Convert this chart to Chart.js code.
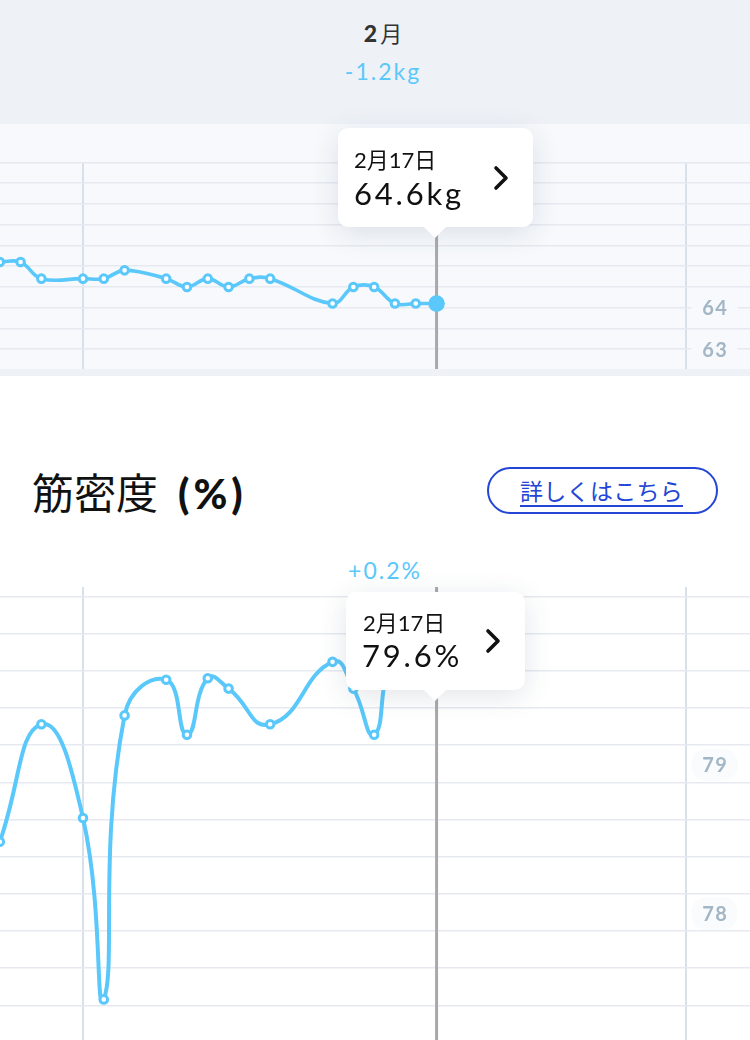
<!DOCTYPE html>
<html lang="ja">
<head>
<meta charset="utf-8">
<script>
window.__errs = [];
window.addEventListener('error', function(e){ window.__errs.push(String(e.message) + ' @' + e.lineno); });
</script>
<script src="https://cdn.jsdelivr.net/npm/chart.js"></script>
<style>
html,body{margin:0;padding:0;}
body{width:750px;height:1040px;overflow:hidden;background:#fff;position:relative;font-family:"Lato","Noto Sans CJK JP",sans-serif;}
#header{position:absolute;left:0;top:0;width:750px;height:124px;background:#eef2f7;}
#month{position:absolute;top:15px;left:8px;width:750px;text-align:center;font-size:22px;line-height:34px;color:#333;}
#month b{font-weight:900;font-family:"Lato",sans-serif;font-size:23px;}
#month span{font-family:"Noto Sans CJK JP",sans-serif;font-weight:400;margin-left:3px;}
#delta1{position:absolute;top:55px;left:8px;width:750px;text-align:center;font-size:23px;line-height:32px;color:#5ac8fa;letter-spacing:2px;}
#wpanel{position:absolute;left:0;top:124px;width:750px;height:246px;background:#f7f9fc;}
#wstrip{position:absolute;left:0;top:369px;width:750px;height:7px;background:#eef2f6;}
#wcanvas{position:absolute;left:0;top:124px;}
#mcanvas{position:absolute;left:0;top:587px;}
#title{position:absolute;left:32px;top:462px;font-size:42px;line-height:58px;color:#111;font-family:"Noto Sans CJK JP",sans-serif;white-space:nowrap;}
#title b{font-family:"Lato",sans-serif;font-weight:900;font-size:41px;margin-left:20px;letter-spacing:4px;}
#btn{position:absolute;left:487px;top:467px;width:227px;height:43px;border:2px solid #2346d6;border-radius:24px;box-sizing:content-box;}
#btn span{position:absolute;left:31px;top:6px;font-family:"Noto Sans CJK JP",sans-serif;font-size:23px;line-height:30px;color:#2346d6;border-bottom:2.5px solid #2346d6;letter-spacing:0.3px;white-space:nowrap;}
#delta2{position:absolute;top:555px;left:10px;width:750px;text-align:center;font-size:23px;line-height:30px;color:#5ac8fa;letter-spacing:2px;}
.tip{position:absolute;background:#fff;border-radius:10px;box-shadow:0 6px 28px rgba(50,70,100,0.14);}
.tip .d{position:absolute;font-size:22px;line-height:26px;color:#111;white-space:nowrap;}
.tip .v{position:absolute;font-size:31px;line-height:36px;color:#111;letter-spacing:2.8px;white-space:nowrap;}
.tip svg{position:absolute;}
.tip .caret{position:absolute;width:0;height:0;border-left:11px solid transparent;border-right:11px solid transparent;border-top:11px solid #fff;}
#dbg{position:absolute;left:10px;top:900px;width:730px;font:14px monospace;color:red;white-space:pre-wrap;}
</style>
</head>
<body>
<div id="header">
  <div id="month"><b>2</b><span>月</span></div>
  <div id="delta1">-1.2kg</div>
</div>
<div id="wpanel"></div>
<canvas id="wcanvas" width="750" height="246"></canvas>
<div id="wstrip"></div>

<div id="title">筋密度<b>(%)</b></div>
<div id="btn"><span>詳しくはこちら</span></div>
<div id="delta2">+0.2%</div>
<canvas id="mcanvas" width="750" height="453"></canvas>

<div class="tip" id="wtip" style="width:195px;height:99px;">
  <div class="d" style="left:16px;top:19px;">2月17日</div>
  <div class="v" id="wtipv" style="left:16px;top:47px;"></div>
  <svg width="20" height="26" style="left:153px;top:37px;" viewBox="0 0 20 26"><polyline points="5,3 15,13 5,23" fill="none" stroke="#111" stroke-width="3.6" stroke-linecap="round" stroke-linejoin="round"/></svg>
  <div class="caret" style="left:86px;top:99px;"></div>
</div>
<div class="tip" id="mtip" style="width:179px;height:98px;">
  <div class="d" style="left:17px;top:18px;">2月17日</div>
  <div class="v" id="mtipv" style="left:16px;top:45px;"></div>
  <svg width="20" height="26" style="left:137px;top:36px;" viewBox="0 0 20 26"><polyline points="5,3 15,13 5,23" fill="none" stroke="#111" stroke-width="3.6" stroke-linecap="round" stroke-linejoin="round"/></svg>
  <div class="caret" style="left:78px;top:98px;"></div>
</div>
<div id="dbg"></div>

<script>
// ---- data (days relative to Feb 1 = 1; Jan 31 = 0) ----
const weightDays   = [-4, -3, -2, 0, 1, 2, 4, 5, 6, 7, 8, 9, 12, 13, 14, 15, 16, 17];
const weightValues = [65.6, 65.6, 65.2, 65.2, 65.2, 65.4, 65.2, 65.0, 65.2, 65.0, 65.2, 65.2, 64.6, 65.0, 65.0, 64.6, 64.6, 64.6];
const muscleDays   = [-4, -2, 0, 1, 2, 4, 5, 6, 7, 9, 12, 13, 14, 15, 17];
const muscleValues = [78.60, 79.39, 78.76, 77.54, 79.45, 79.69, 79.32, 79.70, 79.63, 79.39, 79.81, 79.63, 79.32, 79.80, 79.64];
const monthBoundaryDays = [0, 29];
const weightTicks = [63, 63.5, 64, 64.5, 65, 65.5, 66, 66.5, 67, 67.5, 68];
const weightTickLabels = [63, 64];
const muscleTicks = [77.5, 77.75, 78, 78.25, 78.5, 78.75, 79, 79.25, 79.5, 79.75, 80, 80.25];
const muscleTickLabels = [78, 79];
const selectedDay = 17;
const weightSelected = 64.6;
const muscleSelected = 79.6;

const BLUE = '#5ac8fa';
const X_MIN = -3.99, X_MAX = 32.07;

const crosshair = {
  id: 'crosshair',
  beforeDatasetsDraw(chart) {
    const x = chart.scales.x.getPixelForValue(selectedDay);
    const ctx = chart.ctx;
    ctx.save();
    ctx.strokeStyle = '#a9a9a9';
    ctx.lineWidth = 3;
    ctx.beginPath();
    ctx.moveTo(x, chart.chartArea.top);
    ctx.lineTo(x, chart.chartArea.bottom);
    ctx.stroke();
    ctx.restore();
  }
};

// value labels of the y axis, drawn inside the plot at the right, placed by the y scale
const axisLabels = {
  id: 'axisLabels',
  beforeDatasetsDraw(chart, args, opts) {
    const ys = chart.scales.y;
    const ctx = chart.ctx;
    ctx.save();
    ctx.font = 'bold 20px Lato';
    try { ctx.letterSpacing = '1.5px'; } catch (e) {}
    ctx.textAlign = 'center';
    ctx.textBaseline = 'middle';
    opts.values.forEach(v => {
      const py = ys.getPixelForValue(v) + opts.offset;
      const px = opts.x;
      ctx.fillStyle = opts.backdrop;
      ctx.beginPath();
      if (ctx.roundRect) ctx.roundRect(px - 23, py - 16, 46, 32, 14); else ctx.rect(px - 23, py - 16, 46, 32);
      ctx.fill();
      ctx.fillStyle = '#a3b6c5';
      ctx.fillText(String(v), px + 0.8, py + 1);
    });
    ctx.restore();
  }
};

function makeChart(canvasId, days, values, ticks, tickLabels, yMin, yMax, topPad, labelOffset, backdrop, highlightLast, lineWidth, tension) {
  const last = values.length - 1;
  return new Chart(document.getElementById(canvasId), {
    type: 'line',
    data: {
      datasets: [{
        data: days.map((d, i) => ({x: d, y: values[i]})),
        borderColor: BLUE,
        borderWidth: lineWidth,
        tension: tension,
        fill: false,
        pointRadius: (c) => (highlightLast && c.dataIndex === last) ? 8.3 : 3.8,
        pointBorderWidth: (c) => (highlightLast && c.dataIndex === last) ? 0 : 3,
        pointBackgroundColor: (c) => (highlightLast && c.dataIndex === last) ? BLUE : '#ffffff',
        pointBorderColor: BLUE
      }]
    },
    options: {
      responsive: false,
      animation: false,
      devicePixelRatio: 1,
      layout: {autoPadding: false, padding: {top: topPad, left: 0, right: 0, bottom: 0}},
      plugins: {
        legend: {display: false},
        tooltip: {enabled: false},
        axisLabels: {values: tickLabels, offset: labelOffset, x: 714.5, backdrop: backdrop}
      },
      scales: {
        x: {
          type: 'linear',
          min: X_MIN, max: X_MAX,
          afterBuildTicks: (s) => { s.ticks = monthBoundaryDays.map(v => ({value: v})); },
          afterFit: (s) => { s.height = 0; },
          ticks: {display: false},
          border: {display: false},
          grid: {color: '#d8e0e9', lineWidth: 2, drawTicks: false}
        },
        y: {
          type: 'linear',
          position: 'right',
          min: yMin, max: yMax,
          afterBuildTicks: (s) => { s.ticks = ticks.map(v => ({value: v})); },
          afterFit: (s) => { s.width = 0; },
          border: {display: false},
          grid: {color: '#e6eaf0', lineWidth: 1.5, drawTicks: false},
          ticks: {display: false}
        }
      }
    },
    plugins: [crosshair, axisLabels]
  });
}

let wChart, mChart;
try {
  wChart = makeChart('wcanvas', weightDays, weightValues, weightTicks, weightTickLabels, 63, 68, 38.4, -20.5, '#f7f9fc', true, 3.6, 0.4);
  const mMax = 79 + 195.3 / 148.7;
  const mMin = mMax - 453 / 148.7;
  mChart = makeChart('mcanvas', muscleDays, muscleValues, muscleTicks, muscleTickLabels, mMin, mMax, 0, -17.5, '#fafbfd', false, 4, 0.5);
} catch (e) {
  window.__errs.push('make: ' + e.message);
}

document.getElementById('wtipv').textContent = weightSelected.toFixed(1) + 'kg';
document.getElementById('mtipv').textContent = muscleSelected.toFixed(1) + '%';

try {
  const wx = wChart.scales.x.getPixelForValue(selectedDay);
  const wt = document.getElementById('wtip');
  wt.style.left = (wx - 98.5) + 'px';
  wt.style.top = '128px';
  const mx = mChart.scales.x.getPixelForValue(selectedDay);
  const mt = document.getElementById('mtip');
  mt.style.left = (mx - 90.5) + 'px';
  mt.style.top = '592px';
} catch (e) { window.__errs.push('pos: ' + e.message); }

if (window.__errs.length) document.getElementById('dbg').textContent = window.__errs.join('\n');
</script>
</body>
</html>
